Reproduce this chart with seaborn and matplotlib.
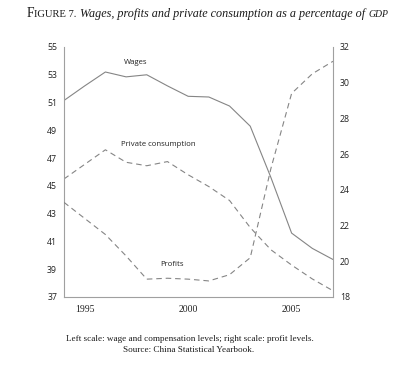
import matplotlib
matplotlib.use("Agg")
import matplotlib.pyplot as plt
import seaborn as sns
import pandas as pd

years = [1994, 1995, 1996, 1997, 1998, 1999, 2000, 2001, 2002, 2003, 2004, 2005, 2006, 2007]
wages = [51.15, 52.2, 53.2, 52.85, 53.0, 52.2, 51.45, 51.4, 50.75, 49.3, 45.6, 41.6, 40.5, 39.7]
private_consumption = [45.5, 46.55, 47.6, 46.7, 46.45, 46.75, 45.8, 44.95, 43.95, 42.0, 40.4, 39.3, 38.3, 37.45]
profits = [23.3, 22.4, 21.5, 20.3, 19.0, 19.05, 19.0, 18.9, 19.25, 20.2, 25.2, 29.4, 30.5, 31.2]

left_ticks = [37, 39, 41, 43, 45, 47, 49, 51, 53, 55]
right_ticks = [18, 20, 22, 24, 26, 28, 30, 32]
x_ticks = [1995, 2000, 2005]

title_parts = [("F", 9.8, "normal"), ("IGURE 7.", 7.6, "normal"),
               (" Wages, profits and private consumption as a percentage of ", 8.75, "italic"),
               ("GDP", 7.0, "italic")]
caption1 = "Left scale: wage and compensation levels; right scale: profit levels."
caption2 = "Source: China Statistical Yearbook."

df = pd.DataFrame({"year": years, "wages": wages, "pc": private_consumption, "profits": profits})

sns.set_style("white")
plt.rcParams["font.family"] = ["Open Sans", "DejaVu Sans"]

W, H = 400, 368
fig = plt.figure(figsize=(4.0, 3.68), dpi=100)
ax = fig.add_axes([64 / W, 1 - 297 / H, (333 - 64) / W, (297 - 47) / H])
ax2 = ax.twinx()

line_color = "#858585"
spine_color = "#a0a0a0"

sns.lineplot(data=df, x="year", y="wages", ax=ax, color=line_color, lw=0.8)
sns.lineplot(data=df, x="year", y="pc", ax=ax, color=line_color, lw=0.8, linestyle=(0, (5, 3.5)))
sns.lineplot(data=df, x="year", y="profits", ax=ax2, color=line_color, lw=0.8, linestyle=(0, (5, 3.5)))

ax.set_xlim(1994, 2007)
ax.set_ylim(37, 55)
ax2.set_ylim(18, 32)
ax.set_xticks(x_ticks)
ax.set_xticklabels([str(x) for x in x_ticks], fontfamily=["Liberation Serif"], fontsize=7)
ax.set_yticks(left_ticks)
ax2.set_yticks(right_ticks)
ax.set_xlabel("")
ax.set_ylabel("")
ax2.set_ylabel("")
ax.tick_params(axis="x", length=0, pad=6, colors="#222222", labelsize=7)
ax.tick_params(axis="y", length=0, pad=5, colors="#222222", labelsize=6.3)
ax2.tick_params(axis="y", length=0, pad=5, colors="#222222", labelsize=6.3)

for a in (ax, ax2):
    a.spines["top"].set_visible(False)
    for s in ("left", "right", "bottom"):
        a.spines[s].set_color(spine_color)
        a.spines[s].set_linewidth(0.8)
ax.spines["right"].set_visible(False)
ax2.spines["left"].set_visible(False)
ax2.spines["bottom"].set_visible(False)
ax.grid(False)
ax2.grid(False)

ax.text(1997.48, 53.85, "Wages", fontsize=5.6, ha="center", va="center", color="#222222")
ax.text(1998.55, 47.95, "Private consumption", fontsize=5.6, ha="center", va="center", color="#222222")
ax.text(1999.2, 39.32, "Profits", fontsize=5.6, ha="center", va="center", color="#222222")

# Title with small-caps emulation
renderer = fig.canvas.get_renderer()
x_px = 27.0
y_base = 1 - 17.0 / H
for txt, size, style in title_parts:
    t = fig.text(x_px / W, y_base, txt, fontsize=size, fontstyle=style,
                 fontfamily=["Liberation Serif"], va="baseline", ha="left", color="#1a1a1a")
    bb = t.get_window_extent(renderer)
    x_px = bb.x1

fig.text(190 / W, 1 - 339 / H, caption1, fontsize=6.55, fontfamily=["Liberation Serif"],
         ha="center", va="center", color="#1a1a1a")
fig.text(189 / W, 1 - 350 / H, caption2, fontsize=6.55, fontfamily=["Liberation Serif"],
         ha="center", va="center", color="#1a1a1a")

fig.savefig("out.png", dpi=100)
